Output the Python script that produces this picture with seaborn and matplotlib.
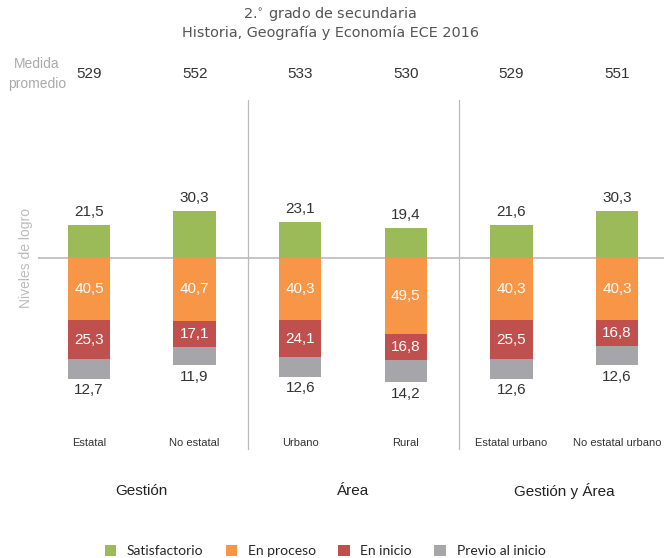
import pandas as pd
import matplotlib.pyplot as plt
import seaborn as sns
from matplotlib.patches import Patch

# datos
categorias = ["Estatal", "No estatal", "Urbano", "Rural", "Estatal urbano", "No estatal urbano"]
grupos = ["Gestión", "Área", "Gestión y Área"]
medida = [529, 552, 533, 530, 529, 551]
satisfactorio = [21.5, 30.3, 23.1, 19.4, 21.6, 30.3]
en_proceso = [40.5, 40.7, 40.3, 49.5, 40.3, 40.3]
en_inicio = [25.3, 17.1, 24.1, 16.8, 25.5, 16.8]
previo = [12.7, 11.9, 12.6, 14.2, 12.6, 12.6]

COLORES = {"Satisfactorio": "#9BBB59", "En proceso": "#F79646",
           "En inicio": "#C0504D", "Previo al inicio": "#A5A5AA"}

df = pd.DataFrame({
    "cat": categorias,
    "sat": satisfactorio,
    "neg1": [-p for p in en_proceso],
    "neg2": [-(p + i) for p, i in zip(en_proceso, en_inicio)],
    "neg3": [-(p + i + v) for p, i, v in zip(en_proceso, en_inicio, previo)],
})

sns.set_theme(style="white")
plt.rcParams["font.family"] = ["Liberation Sans", "DejaVu Sans"]

fig = plt.figure(figsize=(6.64, 5.58), dpi=100)
ax = fig.add_axes([38 / 664, 108 / 558, 626 / 664, 350 / 558])

ancho = 0.40
kw = dict(x="cat", order=categorias, width=ancho, ax=ax, saturation=1, linewidth=0)
sns.barplot(data=df, y="neg3", color=COLORES["Previo al inicio"], **kw)
sns.barplot(data=df, y="neg2", color=COLORES["En inicio"], **kw)
sns.barplot(data=df, y="neg1", color=COLORES["En proceso"], **kw)
sns.barplot(data=df, y="sat", color=COLORES["Satisfactorio"], **kw)

ax.set_xlim(-0.483, 5.445)
ax.set_ylim(-124.7, 102.6)
ax.axhline(0, color="#BBBBBB", lw=1.2, zorder=0)
for xs in (1.506, 3.50):
    ax.axvline(xs, color="#BBBBBB", lw=0.9, zorder=0)
ax.set_xticks([])
ax.set_yticks([])
ax.set_xlabel("")
ax.set_ylabel("")
for s in ax.spines.values():
    s.set_visible(False)

oscuro = "#333333"
for i in range(len(categorias)):
    ax.text(i, satisfactorio[i] + 4, f"{satisfactorio[i]:.1f}".replace(".", ","),
            ha="center", va="bottom", fontsize=11, color=oscuro)
    ax.text(i, -en_proceso[i] / 2, f"{en_proceso[i]:.1f}".replace(".", ","),
            ha="center", va="center", fontsize=11, color="white")
    ax.text(i, -en_proceso[i] - en_inicio[i] / 2, f"{en_inicio[i]:.1f}".replace(".", ","),
            ha="center", va="center", fontsize=11, color="white")
    ax.text(i, df["neg3"][i] - 3, f"{previo[i]:.1f}".replace(".", ","),
            ha="center", va="top", fontsize=11, color=oscuro)
    ax.text(i, -120, categorias[i], ha="center", va="center", fontsize=8, color=oscuro)

# medida promedio
for i, m in enumerate(medida):
    ax.annotate(str(m), xy=(i, 0), xycoords=("data", "figure fraction"),
                xytext=(0, 558 - 74), textcoords="offset pixels",
                ha="center", va="center", fontsize=11, color=oscuro)
fig.text(37 / 664, 1 - 74 / 558, "Medida\npromedio", ha="center", va="center",
         fontsize=10, color="#AAAAAA", linespacing=1.5)

# etiqueta eje
fig.text(26 / 664, 1 - 258 / 558, "Niveles de logro", rotation=90, ha="center",
         va="center", fontsize=10, color="#BBBBBB")

# grupos
for pos, g in zip([0.5, 2.5, 4.5], grupos):
    ax.annotate(g, xy=(pos, 0), xycoords=("data", "figure fraction"),
                xytext=(0, 558 - 491), textcoords="offset pixels",
                ha="center", va="center", fontsize=11, color="#222222")

# titulo
fig.text(0.497, 1 - 14 / 558, "2.$^{\\circ}$ grado de secundaria", ha="center", va="center",
         fontsize=10.4, color="#555555", family=["DejaVu Sans"])
fig.text(0.497, 1 - 33 / 558, "Historia, Geografía y Economía ECE 2016", ha="center",
         va="center", fontsize=10.4, color="#555555", family=["DejaVu Sans"])

# leyenda
handles = [Patch(facecolor=c, edgecolor="none", label=k) for k, c in COLORES.items()]
fig.legend(handles=handles, loc="center", bbox_to_anchor=(325 / 664, 1 - 551 / 558), ncol=4,
           frameon=False, handlelength=0.85, handleheight=0.85,
           columnspacing=1.6, handletextpad=0.75, prop={"family": ["Lato"], "size": 10})

fig.savefig("out.png", dpi=100)
